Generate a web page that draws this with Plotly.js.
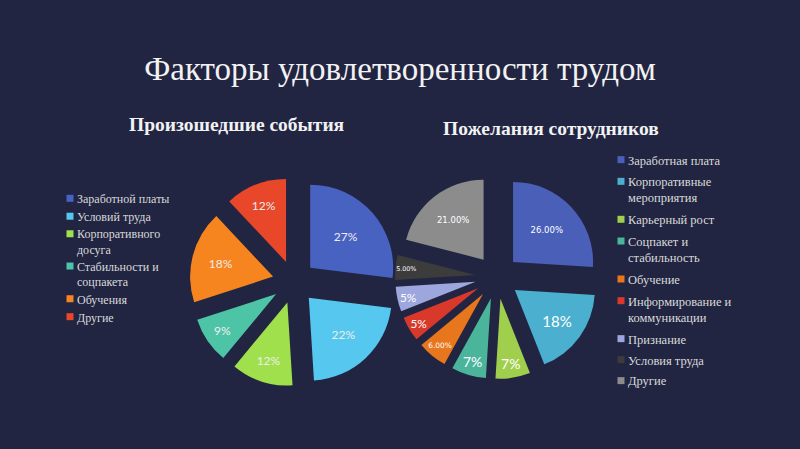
<!DOCTYPE html>
<html><head><meta charset="utf-8">
<script src="https://cdn.plot.ly/plotly-3.0.1.min.js"></script>
<style>html,body{margin:0;padding:0;background:#212542;}</style>
</head><body>
<div id="chart" style="width:800px;height:449px;"></div>
<script>
// Left pie: Произошедшие события
const leftLabels = ["Заработной платы", "Условий труда", "Корпоративного<br>досуга", "Стабильности и<br>соцпакета", "Обучения", "Другие"];
const leftValues = [27, 22, 12, 9, 18, 12];
const leftColors = ["#4862c2", "#56c7ef", "#9fe04c", "#4ec4a6", "#f7851f", "#e8472a"];

// Right pie: Пожелания сотрудников
const rightLabels = ["Заработная плата", "Корпоративные<br>мероприятия", "Карьерный рост", "Соцпакет и<br>стабильность", "Обучение", "Информирование и<br>коммуникации", "Признание", "Условия труда", "Другие\u200b"];
const rightValues = [26, 18, 7, 7, 6, 5, 5, 5, 21];
const rightText = ["26.00%", "18%", "7%", "7%", "6.00%", "5%", "5%", "5.00%", "21.00%"];
const rightColors = ["#4a5fb8", "#4bafcf", "#a0cf4e", "#4bb59c", "#e8761c", "#d9392a", "#9ea6de", "#3c3c3c", "#8c8c8c"];
const rightTextSizes = [8.5, 15, 14, 14, 8.5, 15, 15, 8.5, 8.5];
const rightTextFamilies = ["DejaVu Sans", "Lato", "Lato", "Lato", "DejaVu Sans", "Lato", "Lato", "DejaVu Sans", "DejaVu Sans"];

const serif = "Liberation Serif, DejaVu Serif, serif";

const traces = [
  {
    type: "pie", labels: leftLabels, values: leftValues, sort: false,
    direction: "clockwise", rotation: 0,
    marker: {colors: leftColors, line: {width: 0}},
    pull: leftValues.map(() => 0.26),
    textinfo: "percent", texttemplate: "%{percent:.0%}",
    textposition: "inside", insidetextorientation: "horizontal",
    textfont: {family: "Lato, Liberation Sans, sans-serif", size: 12, color: "#eeeeee"},
    domain: {x: [0.2368, 0.4982], y: [0.139, 0.605]},
    legend: "legend", hoverinfo: "none"
  },
  {
    type: "pie", labels: rightLabels, values: rightValues, sort: false,
    direction: "clockwise", rotation: 0,
    marker: {colors: rightColors, line: {width: 0}},
    pull: rightValues.map(() => 0.275),
    text: rightText, textinfo: "text",
    textposition: "inside", insidetextorientation: "horizontal",
    textfont: {family: rightTextFamilies, size: rightTextSizes, color: "#ffffff"},
    domain: {x: [0.4938, 0.7488], y: [0.1559, 0.6102]},
    legend: "legend2", hoverinfo: "none"
  }
];

const layout = {
  width: 800, height: 449,
  margin: {l: 0, r: 0, t: 0, b: 0},
  paper_bgcolor: "#212542", plot_bgcolor: "#212542",
  showlegend: true,
  title: {text: "Факторы удовлетворенности трудом", x: 0.5, xanchor: "center",
          y: 1 - 68/449, yanchor: "middle", yref: "container",
          font: {family: serif, size: 33, color: "#f2f2f2"}},
  legend: {x: 37/800, xanchor: "left", y: 1 - 184/449, yanchor: "top",
           bgcolor: "rgba(0,0,0,0)", valign: "top",
           font: {family: serif, size: 12, color: "#d9d9d9"}},
  legend2: {x: 588/800, xanchor: "left", y: 1 - 145/449, yanchor: "top",
           bgcolor: "rgba(0,0,0,0)", valign: "top",
           font: {family: serif, size: 12.5, color: "#d9d9d9"}},
  annotations: [
    {text: "<b>Произошедшие события</b>", x: 237/800, y: 1 - 125/449, xref: "paper", yref: "paper",
     xanchor: "center", yanchor: "middle", showarrow: false,
     font: {family: serif, size: 19.5, color: "#f2f2f2"}},
    {text: "<b>Пожелания сотрудников</b>", x: 551/800, y: 1 - 128/449, xref: "paper", yref: "paper",
     xanchor: "center", yanchor: "middle", showarrow: false,
     font: {family: serif, size: 19.5, color: "#f2f2f2"}}
  ]
};

function parseTranslate(t) {
  var m = (t || "").match(/translate\(\s*([-\d.e]+)[ ,]*([-\d.e]*)\s*\)/);
  return m ? [parseFloat(m[1]), m[2] === "" ? 0 : parseFloat(m[2])] : [0, 0];
}

Plotly.newPlot("chart", traces, layout, {displayModeBar: false, staticPlot: true}).then(function (gd) {
  // smaller legend squares placed right next to the text, as in the original
  gd.querySelectorAll(".legendpoints path").forEach(function (p) {
    p.setAttribute("d", "M3.5,3.5H-3.5V-3.5H3.5Z");
    var xy = parseTranslate(p.getAttribute("transform"));
    p.setAttribute("transform", "translate(33," + xy[1] + ")");
  });
  // entry spacing of each legend as in the original
  var spacing = {legend: 0.944, legend2: 1.09};
  Object.keys(spacing).forEach(function (cls) {
    var g = gd.querySelector("g." + cls);
    if (!g) return;
    g.querySelectorAll(".scrollbox").forEach(function (s) { s.removeAttribute("clip-path"); });
    var items = g.querySelectorAll("g.traces");
    if (!items.length) return;
    var y0 = parseTranslate(items[0].getAttribute("transform"))[1];
    items.forEach(function (it) {
      var xy = parseTranslate(it.getAttribute("transform"));
      it.setAttribute("transform", "translate(" + xy[0] + "," + (y0 + (xy[1] - y0) * spacing[cls]) + ")");
    });
  });
});
</script>
</body></html>
